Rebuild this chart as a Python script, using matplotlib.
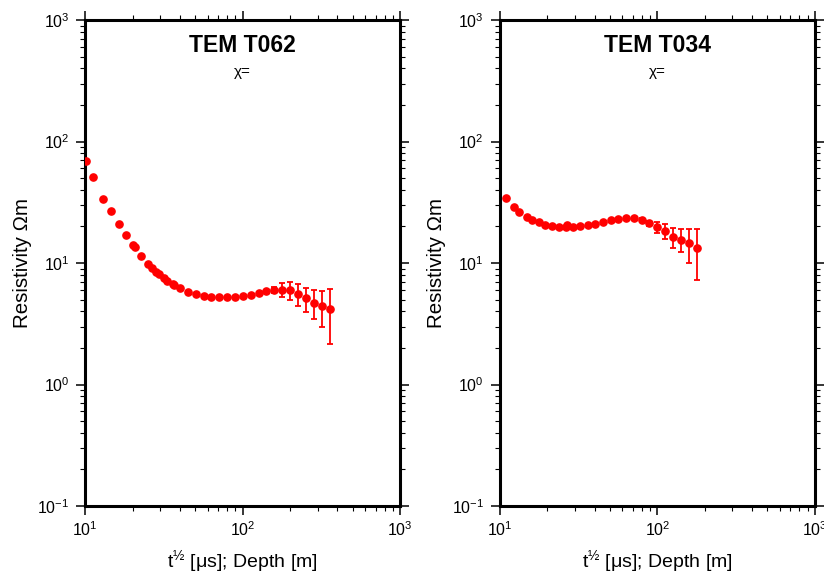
import matplotlib
matplotlib.use("Agg")
import matplotlib.pyplot as plt
import numpy as np
from matplotlib.ticker import LogLocator, NullFormatter

plt.rcParams['font.family'] = ['Liberation Sans', 'DejaVu Sans']
plt.rcParams['mathtext.fontset'] = 'custom'
plt.rcParams['mathtext.rm'] = 'Liberation Sans'
plt.rcParams['mathtext.it'] = 'Liberation Sans:italic'
plt.rcParams['mathtext.bf'] = 'Liberation Sans:bold'

# TEM T062 sounding
t062_time = [10.06, 11.14, 13.0, 14.5, 16.3, 18.1, 20.2, 20.6, 22.6, 25.2,
             26.7, 28.0, 29.3, 31.6, 32.9, 35.9, 36.8, 40.0, 45.0, 50.3,
             56.6, 63.2, 71.1, 79.9, 89.5, 100.6, 112.6, 126.6, 141.5, 159.1,
             178.8, 200.0, 225.0, 253.0, 283.0, 318.0, 358.0]
t062_rho = [69.7, 51.5, 33.8, 26.7, 20.8, 16.9, 13.95, 13.6, 11.5, 9.8,
            9.03, 8.48, 8.06, 7.47, 7.15, 6.67, 6.55, 6.23, 5.78, 5.56,
            5.39, 5.28, 5.22, 5.22, 5.26, 5.36, 5.49, 5.67, 5.84, 6.0,
            6.05, 5.96, 5.58, 5.12, 4.72, 4.44, 4.16]
t062_err = [0, 0, 0, 0, 0, 0, 0, 0, 0, 0,
            0, 0, 0, 0, 0, 0, 0, 0, 0, 0,
            0, 0, 0, 0, 0, 0, 0, 0, 0.15, 0.35,
            0.77, 0.97, 1.18, 1.15, 1.28, 1.48, 1.99]

# TEM T034 sounding
t034_time = [10.9, 12.2, 13.2, 14.9, 16.0, 17.8, 19.3, 21.3, 23.8, 26.1,
             26.6, 29.0, 32.3, 36.0, 40.3, 45.1, 50.4, 56.4, 63.2, 71.1,
             79.4, 89.0, 100.0, 112.4, 126.5, 141.6, 159.2, 177.9]
t034_rho = [34.2, 28.9, 26.4, 24.0, 22.7, 21.6, 20.6, 20.3, 19.8, 19.9,
            20.4, 19.9, 20.3, 20.6, 21.0, 21.7, 22.4, 23.1, 23.3, 23.3,
            22.7, 21.2, 19.7, 18.4, 16.4, 15.6, 14.5, 13.2]
t034_err = [0, 0, 0, 0, 0, 0, 0, 0, 0, 0,
            0, 0, 0, 0, 0, 0, 0, 0, 0, 0,
            0.6, 1.15, 2.17, 2.6, 3.15, 3.35, 4.5, 6.0]

soundings = [("TEM T062", t062_time, t062_rho, t062_err),
             ("TEM T034", t034_time, t034_rho, t034_err)]

fig = plt.figure(figsize=(8.24, 5.74), dpi=100)
lefts = [85.3 / 824, 500 / 824]

for left, (name, tt, rho, err) in zip(lefts, soundings):
    ax = fig.add_axes([left, 68 / 574, 314.7 / 824, 486 / 574])
    ax.errorbar(tt, rho, yerr=err, fmt='o', color='red', ms=5.2,
                elinewidth=1.3, capsize=2.5, capthick=1.3, zorder=3)
    ax.set_xscale('log')
    ax.set_yscale('log')
    ax.set_xlim(10, 1000)
    ax.set_ylim(0.1, 1000)
    ax.xaxis.set_major_locator(LogLocator(base=10, numticks=10))
    ax.xaxis.set_minor_locator(LogLocator(base=10, subs=np.arange(2, 10), numticks=20))
    ax.yaxis.set_major_locator(LogLocator(base=10, numticks=10))
    ax.yaxis.set_minor_locator(LogLocator(base=10, subs=np.arange(2, 10), numticks=20))
    ax.xaxis.set_minor_formatter(NullFormatter())
    ax.yaxis.set_minor_formatter(NullFormatter())
    for s in ax.spines.values():
        s.set_linewidth(2.2)
    ax.tick_params(which='both', direction='out', top=True, right=True,
                   labelsize=11.5, color='black')
    ax.tick_params(which='major', length=6.5, width=1.1)
    ax.tick_params(axis='x', which='major', pad=4)
    ax.tick_params(axis='y', which='major', pad=5)
    ax.tick_params(which='minor', length=3.5, width=0.8)
    ax.set_ylabel('Resistivity Ωm', fontsize=14.8, labelpad=4)
    ax.set_xlabel('t$^{½}$ [μs]; Depth [m]', fontsize=14, labelpad=6)
    ax.text(0.5, 0.972, name, transform=ax.transAxes, ha='center', va='top',
            fontsize=16.5, fontweight='bold')
    ax.text(0.5, 0.908, 'χ=', transform=ax.transAxes, ha='center', va='top',
            fontsize=11)

fig.savefig('out.png', dpi=100)
